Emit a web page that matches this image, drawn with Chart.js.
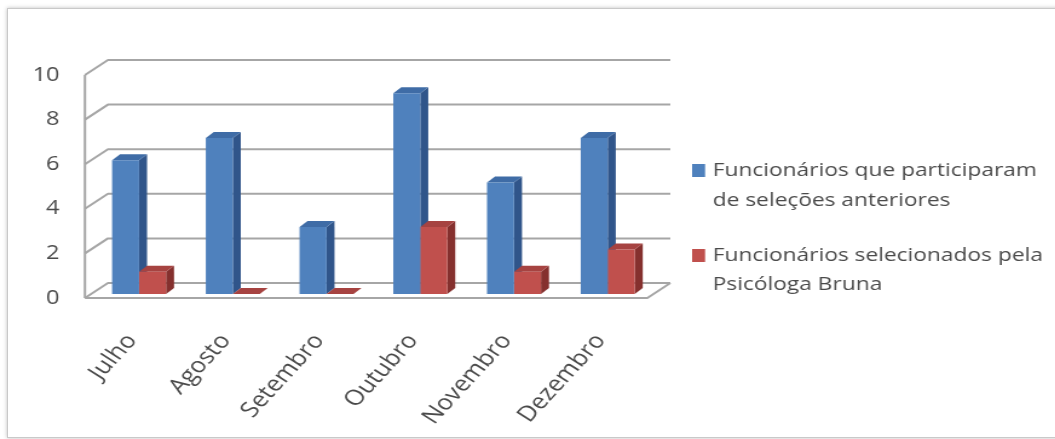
<!DOCTYPE html>
<html>
<head>
<meta charset="utf-8">
<script src="https://cdn.jsdelivr.net/npm/chart.js@4"></script>
<style>
  html, body { margin: 0; padding: 0; background: #fff; overflow: hidden; }
  #frame {
    position: absolute; left: 7px; top: 8px; width: 1070px; height: 428px;
    border: 1px solid #c9c9c9; box-shadow: 0 0 4px rgba(0,0,0,0.25); background: #fff;
  }
  #chart {
    position: absolute; left: 0; top: 0;
    transform-origin: 0 0; transform: scaleX(1.21);
  }
</style>
</head>
<body>
<div id="frame"></div>
<canvas id="chart" width="872" height="439"></canvas>
<script>
"use strict";

// Data
const months = ["Julho", "Agosto", "Setembro", "Outubro", "Novembro", "Dezembro"];
const participaram = [6, 7, 3, 9, 5, 7];
const selecionados = [1, 0, 0, 3, 1, 2];
const seriesNames = [
    ["Funcionários que participaram", "de seleções anteriores"],
    ["Funcionários selecionados pela", "Psicóloga Bruna"]
];
const yMin = 0, yMax = 10, yStep = 2;

// Styling
const TEXT_COLOR = "#4a4a4a";
const GRID_COLOR = "#a6a6a6";
const FRONT = ["#4f81bd", "#c0504d"];
const TOP = ["#3f6ca6", "#a64341"];
const SIDE = ["#30558a", "#85302e"];
const BAR_SHIFT = [6, -4];    // bars sit a bit behind the front floor edge
const BACK = [19, -15];       // depth of the back wall
const BAR_DEPTH = [6.6, -6];  // depth of each column

const threeD = {
    id: "threeD",
    beforeDatasetsDraw(chart) {
        const { ctx, chartArea: a, scales: { y } } = chart;
        ctx.save();
        ctx.strokeStyle = GRID_COLOR;
        ctx.lineWidth = 2;
        ctx.lineJoin = "round";
        // walls: left wall diagonals + back wall lines
        y.ticks.forEach(t => {
            const py = y.getPixelForValue(t.value);
            ctx.beginPath();
            ctx.moveTo(a.left, py);
            ctx.lineTo(a.left + BACK[0], py + BACK[1]);
            ctx.lineTo(a.right + BACK[0], py + BACK[1]);
            ctx.stroke();
        });
        // front left edge
        ctx.beginPath();
        ctx.moveTo(a.left, a.top);
        ctx.lineTo(a.left, a.bottom);
        ctx.stroke();
        // floor front and right edges
        ctx.beginPath();
        ctx.moveTo(a.left, a.bottom);
        ctx.lineTo(a.right, a.bottom);
        ctx.lineTo(a.right + BACK[0], a.bottom + BACK[1]);
        ctx.stroke();
        ctx.restore();

        // top and side faces of the columns (front faces drawn by Chart.js)
        ctx.save();
        ctx.translate(BAR_SHIFT[0], BAR_SHIFT[1]);
        const [dx, dy] = BAR_DEPTH;
        chart.data.datasets.forEach((ds, i) => {
            chart.getDatasetMeta(i).data.forEach(bar => {
                const l = bar.x - bar.width / 2, r = bar.x + bar.width / 2;
                const t = Math.min(bar.y, bar.base), b = bar.base;
                ctx.fillStyle = SIDE[i];
                ctx.beginPath();
                ctx.moveTo(r, t); ctx.lineTo(r + dx, t + dy);
                ctx.lineTo(r + dx, b + dy); ctx.lineTo(r, b);
                ctx.closePath(); ctx.fill();
                ctx.fillStyle = TOP[i];
                ctx.beginPath();
                ctx.moveTo(l, t); ctx.lineTo(l + dx, t + dy);
                ctx.lineTo(r + dx, t + dy); ctx.lineTo(r, t);
                ctx.closePath(); ctx.fill();
            });
        });
    },
    afterDatasetsDraw(chart) {
        chart.ctx.restore();
    },
    afterDraw(chart) {
        // legend on the right, two lines per entry
        const ctx = chart.ctx;
        const boxes = [164, 249];
        const lines = [[171, 201], [256, 285]];
        ctx.save();
        ctx.font = "18.8px 'Open Sans'";
        ctx.textBaseline = "middle";
        seriesNames.forEach((name, i) => {
            ctx.fillStyle = FRONT[i];
            ctx.fillRect(572, boxes[i], 10.7, 13);
            ctx.fillStyle = TEXT_COLOR;
            name.forEach((txt, j) => ctx.fillText(txt, 589, lines[i][j]));
        });
        ctx.restore();
    }
};

const ctx = document.getElementById("chart").getContext("2d");
new Chart(ctx, {
    type: "bar",
    data: {
        labels: months,
        datasets: [
            { label: seriesNames[0].join(" "), data: participaram, backgroundColor: FRONT[0] },
            { label: seriesNames[1].join(" "), data: selecionados, backgroundColor: FRONT[1] }
        ]
    },
    options: {
        responsive: false,
        animation: false,
        devicePixelRatio: 1,
        layout: { padding: { top: 75, right: 337, left: 0, bottom: 0 } },
        datasets: { bar: { categoryPercentage: 0.576, barPercentage: 1.0, borderWidth: 0 } },
        scales: {
            x: {
                grid: { display: false, drawTicks: false },
                border: { display: false },
                ticks: {
                    color: TEXT_COLOR, font: { family: "'Open Sans'", size: 21.5 },
                    minRotation: 52.5, maxRotation: 52.5, padding: 31, autoSkip: false
                },
                afterFit(s) { s.height = 141; }
            },
            y: {
                min: yMin, max: yMax,
                grid: { display: false, drawTicks: false },
                border: { display: false },
                ticks: {
                    stepSize: yStep, color: TEXT_COLOR,
                    font: { family: "'Open Sans'", size: 19.5 }, padding: 21
                },
                afterFit(s) { s.width = 70.2; }
            }
        },
        plugins: { legend: { display: false }, tooltip: { enabled: false } }
    },
    plugins: [threeD]
});
</script>
</body>
</html>
